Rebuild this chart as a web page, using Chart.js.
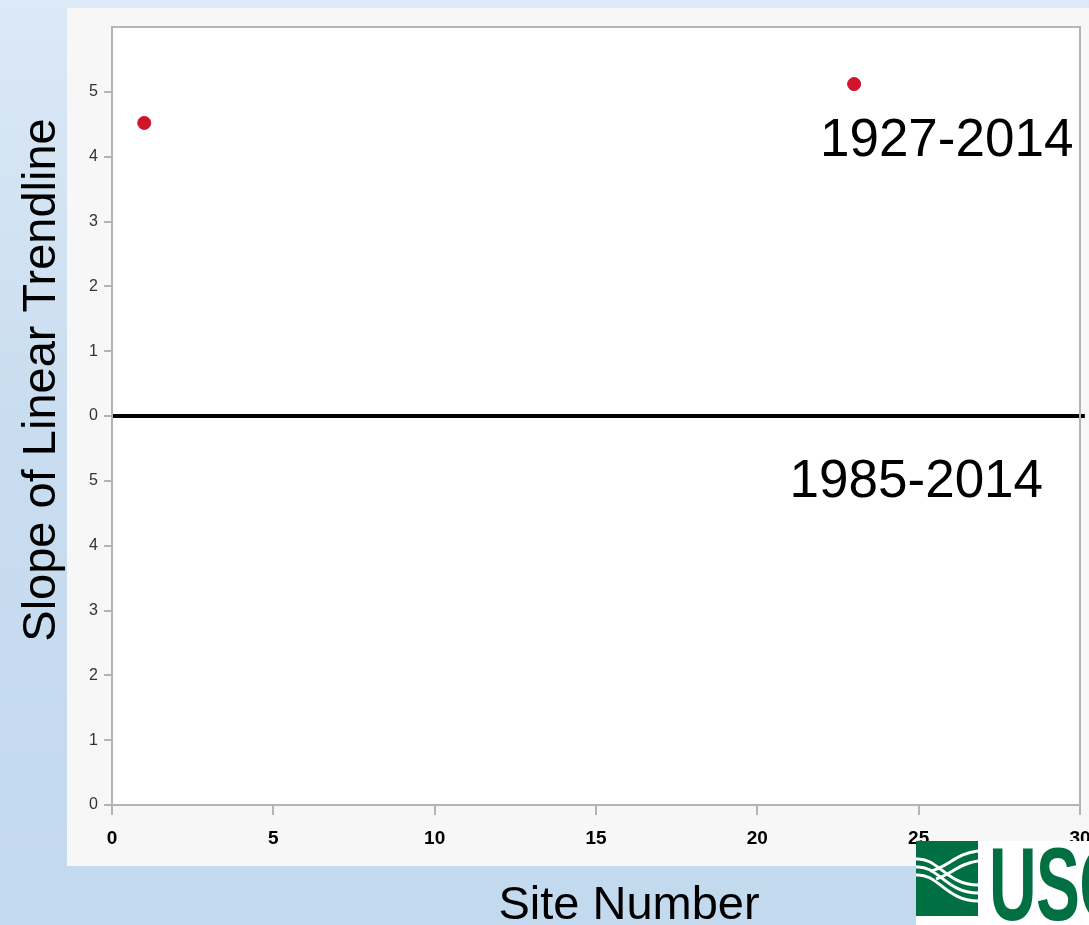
<!DOCTYPE html>
<html>
<head>
<meta charset="utf-8">
<script src="https://cdn.jsdelivr.net/npm/chart.js@4/dist/chart.umd.min.js"></script>
<style>
  html, body { margin: 0; padding: 0; }
  body {
    width: 1089px; height: 925px; overflow: hidden; position: relative;
    background: linear-gradient(180deg, #dce9f6 0%, #c9ddf0 45%, #c3d9ee 100%);
    font-family: "Liberation Sans", Arial, sans-serif;
  }
  #wrap { position: absolute; left: 0; top: 0; width: 1089px; height: 925px; }
  #logo {
    position: absolute; left: 916px; top: 841px; width: 173px; height: 84px;
    background: #ffffff; overflow: hidden;
  }
  #logo svg { position: absolute; left: 0; top: 0; }
  #logo span {
    position: absolute; left: 73px; top: -15px;
    font-family: "Liberation Sans Narrow", "Liberation Sans", sans-serif;
    font-weight: bold; font-size: 103px; color: #006f41; letter-spacing: -1px;
    transform: scaleX(0.64); transform-origin: left top; white-space: nowrap;
  }
</style>
</head>
<body>
<div id="wrap"><canvas id="slopeChart" width="1089" height="925"></canvas></div>
<div id="logo">
  <svg width="62" height="75" viewBox="0 0 62 75">
    <rect x="0" y="0" width="62" height="75" fill="#006f41"/>
    <path d="M0 18 C22 16 30 44 62 44" stroke="#fff" stroke-width="3" fill="none"/>
    <path d="M0 26 C22 24 30 52 62 52" stroke="#fff" stroke-width="3" fill="none"/>
    <path d="M0 34 C22 32 30 60 62 60" stroke="#fff" stroke-width="3" fill="none"/>
    <path d="M14 30 C30 28 40 12 62 10" stroke="#fff" stroke-width="3" fill="none"/>
    <path d="M20 38 C34 34 44 22 62 20" stroke="#fff" stroke-width="3" fill="none"/>
  </svg>
  <span>USGS</span>
</div>
<script>
// site number vs slope; the y axis stacks two panels (1985-2014 below, 1927-2014 above, offset by 6)
const siteNumbers = [1, 23];
const slopeValues = [10.52, 11.12];
const baselineX = [0, 30.15];
const baselineY = [6, 6];
const yTickValues = [0, 1, 2, 3, 4, 5, 6, 7, 8, 9, 10, 11];
const yTickLabels = ['0', '1', '2', '3', '4', '5', '0', '1', '2', '3', '4', '5'];
const xTickValues = [0, 5, 10, 15, 20, 25, 30];
const periodLabels = ['1927-2014', '1985-2014'];
const periodLabelX = [21.94, 21.0];
const periodLabelY = [10.23, 4.97];

const FONT = '"Liberation Sans", Arial, sans-serif';

const panelBackground = {
  id: 'panelBackground',
  beforeDraw(chart) {
    const { ctx, chartArea } = chart;
    ctx.save();
    ctx.fillStyle = '#f7f7f7';
    ctx.fillRect(67, 8, 1022, 858);
    ctx.fillStyle = '#ffffff';
    ctx.fillRect(chartArea.left, chartArea.top, chartArea.right - chartArea.left, chartArea.bottom - chartArea.top);
    ctx.restore();
  },
  afterDatasetsDraw(chart) {
    const { ctx, chartArea } = chart;
    ctx.save();
    ctx.strokeStyle = '#b4b4b4';
    ctx.lineWidth = 2;
    ctx.strokeRect(chartArea.left, chartArea.top, chartArea.right - chartArea.left, chartArea.bottom - chartArea.top);
    ctx.restore();
  }
};

const textLayer = {
  id: 'textLayer',
  afterDraw(chart) {
    const { ctx, scales } = chart;
    ctx.save();
    ctx.fillStyle = '#000000';
    ctx.font = '53px ' + FONT;
    ctx.textBaseline = 'middle';
    periodLabels.forEach((txt, i) => {
      ctx.fillText(txt, scales.x.getPixelForValue(periodLabelX[i]), scales.y.getPixelForValue(periodLabelY[i]));
    });
    // axis titles
    ctx.font = '47px ' + FONT;
    ctx.textAlign = 'center';
    ctx.fillText('Site Number', 629, 906);
    ctx.translate(42, 380);
    ctx.rotate(-Math.PI / 2);
    ctx.fillText('Slope of Linear Trendline', 0, 0);
    ctx.restore();
  }
};

const ctx = document.getElementById('slopeChart').getContext('2d');
new Chart(ctx, {
  type: 'scatter',
  data: {
    datasets: [
      {
        label: 'Slope',
        data: siteNumbers.map((s, i) => ({ x: s, y: slopeValues[i] })),
        backgroundColor: '#d0142c',
        borderColor: '#d0142c',
        pointRadius: 6.5,
        pointHoverRadius: 6.5
      },
      {
        label: 'Divider',
        type: 'line',
        data: baselineX.map((x, i) => ({ x: x, y: baselineY[i] })),
        borderColor: '#000000',
        borderWidth: 4,
        pointRadius: 0,
        clip: false
      }
    ]
  },
  options: {
    responsive: false,
    animation: false,
    layout: { padding: { top: 27, right: 9, left: 0, bottom: 0 } },
    plugins: {
      legend: { display: false },
      tooltip: { enabled: false }
    },
    scales: {
      x: {
        type: 'linear',
        min: 0,
        max: 30,
        afterFit(scale) { scale.height = 120; scale.paddingRight = 0; scale.paddingLeft = 0; },
        afterBuildTicks(scale) { scale.ticks = xTickValues.map(v => ({ value: v })); },
        grid: { drawOnChartArea: false, drawTicks: true, tickLength: 10, color: '#b4b4b4', lineWidth: 2 },
        border: { display: true, color: '#b4b4b4', width: 2 },
        ticks: {
          color: '#000000',
          padding: 12,
          maxRotation: 0,
          font: { family: FONT, size: 19, weight: 'bold' }
        }
      },
      y: {
        type: 'linear',
        min: 0,
        max: 12,
        afterFit(scale) { scale.width = 112; scale.paddingTop = 0; },
        afterBuildTicks(scale) { scale.ticks = yTickValues.map(v => ({ value: v })); },
        grid: { drawOnChartArea: false, drawTicks: true, tickLength: 8, color: '#b4b4b4', lineWidth: 2 },
        border: { display: true, color: '#b4b4b4', width: 2 },
        ticks: {
          color: '#333333',
          padding: 6,
          font: { family: FONT, size: 16 },
          callback: (v) => yTickLabels[yTickValues.indexOf(v)]
        }
      }
    }
  },
  plugins: [panelBackground, textLayer]
});
</script>
</body>
</html>
